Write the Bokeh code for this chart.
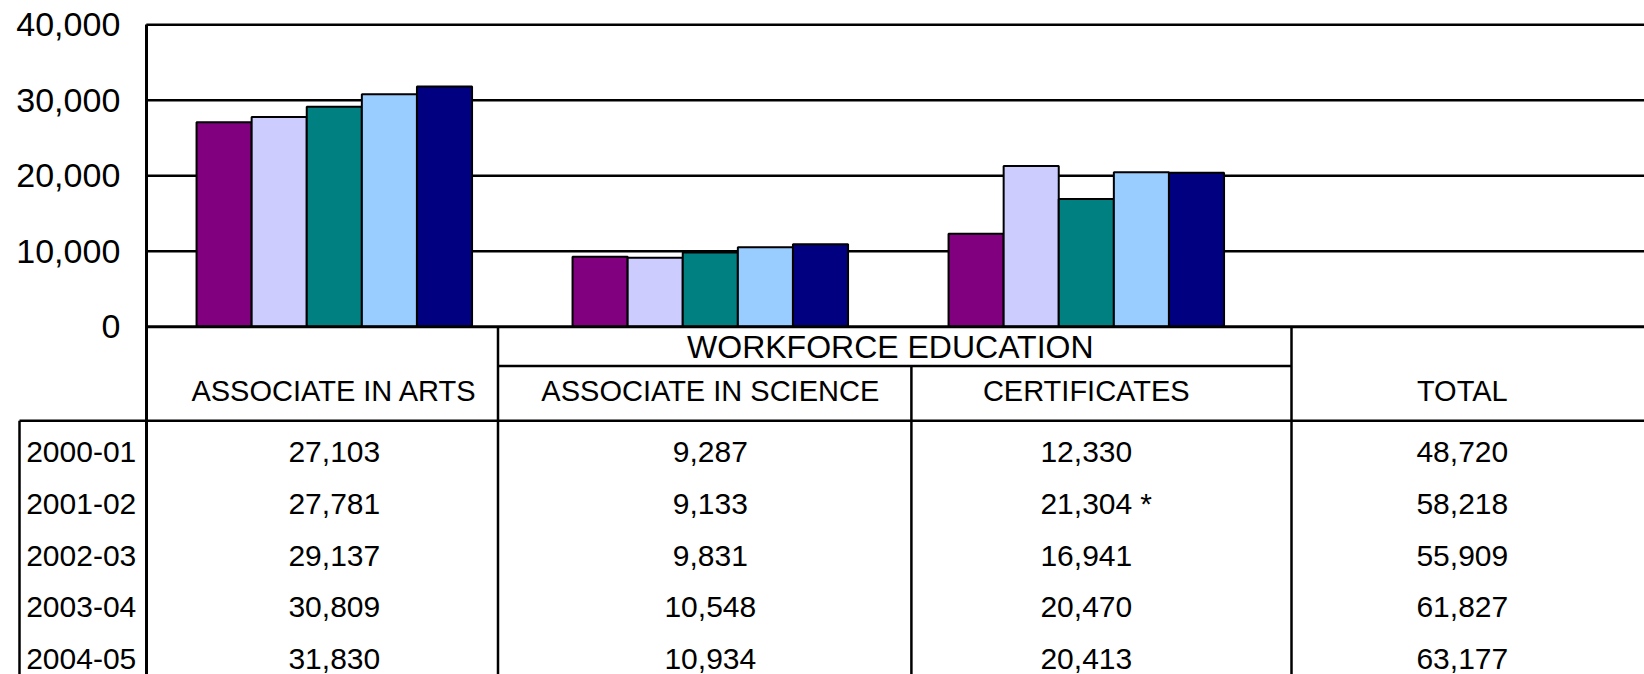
from bokeh.plotting import figure
from bokeh.models import Range1d, LinearAxis, FixedTicker, NumeralTickFormatter, ColumnDataSource
from bokeh.core.properties import value
from bokeh.embed import file_html
from bokeh.resources import INLINE

# ---------------- data ----------------
categories = ["ASSOCIATE IN ARTS", "ASSOCIATE IN SCIENCE", "CERTIFICATES", "TOTAL"]
years = ["2000-01", "2001-02", "2002-03", "2003-04", "2004-05"]
associate_arts = [27103, 27781, 29137, 30809, 31830]
associate_science = [9287, 9133, 9831, 10548, 10934]
certificates = [12330, 21304, 16941, 20470, 20413]
total = [48720, 58218, 55909, 61827, 63177]
certificate_notes = ["", "*", "", "", ""]
group_header = "WORKFORCE EDUCATION"
y_ticks = [0, 10000, 20000, 30000, 40000]
year_colors = ["#800080", "#CCCCFF", "#008080", "#99CCFF", "#000080"]

# ---------------- layout constants (page pixels) ----------------
FONT = "Liberation Sans"
FIG_W, FIG_H = 1644, 674
PLOT_LEFT = 145.8
CAT_W = 376.0
ZERO_Y = 326.3
PX_PER_UNIT = 302.0 / 40000
ROW0_Y = 451.7
ROW_H = 51.65
BAR_W = 55.1 / CAT_W
LINE_W = 2.5


def ux(ax):
    return (ax - PLOT_LEFT) / CAT_W


def vy(ay):
    return (ZERO_Y - ay) / PX_PER_UNIT


def ry(ay):
    return (ay - ROW0_Y) / ROW_H


X_END = ux(FIG_W)
ROW_BOTTOM = ry(FIG_H)
Y_MAX = max(y_ticks)

p = figure(width=FIG_W, height=FIG_H, output_backend="svg", toolbar_location=None,
           title=None,
           x_range=Range1d(ux(0), X_END),
           y_range=Range1d(vy(FIG_H), vy(0)),
           x_axis_location=None, y_axis_location=None,
           min_border_left=0, min_border_right=0, min_border_top=0,
           min_border_bottom=0, outline_line_color=None,
           background_fill_color="white", border_fill_color="white")
p.extra_y_ranges = {"table": Range1d(ROW_BOTTOM, ry(0))}
p.grid.visible = False

# gridlines
grid_vals = [t for t in y_ticks if t != 0]
p.segment(x0=[0] * len(grid_vals), x1=[X_END + 0.1] * len(grid_vals), y0=grid_vals, y1=grid_vals,
          line_color="black", line_width=LINE_W)

# bars
charted = [associate_arts, associate_science, certificates]
xs, tops, fills = [], [], []
for ci, vals in enumerate(charted):
    for yi, v in enumerate(vals):
        xs.append(ci + 0.5 + (yi - (len(years) - 1) / 2) * BAR_W)
        tops.append(v)
        fills.append(year_colors[yi])
bars = ColumnDataSource(dict(x=xs, top=tops, fill=fills))
p.vbar(x="x", top="top", bottom=0, width=BAR_W, fill_color="fill", line_color="black",
       line_width=2, source=bars)

# zero line
p.segment(x0=[0], x1=[X_END + 0.1], y0=[0], y1=[0], line_color="black", line_width=3)

# table lines
h_lines = dict(x0=[ux(19), ux(497.5)], x1=[X_END + 0.1, ux(1291)],
               y0=[ry(420.3), ry(365.5)], y1=[ry(420.3), ry(365.5)])
p.segment(source=ColumnDataSource(h_lines), x0="x0", x1="x1", y0="y0", y1="y1",
          y_range_name="table", line_color="black", line_width=LINE_W)
v_x = [ux(19), ux(497.5), ux(910.9), ux(1291)]
v_top = [ry(420.3), ry(ZERO_Y), ry(365.5), ry(ZERO_Y)]
p.segment(x0=v_x, x1=v_x, y0=v_top, y1=[ROW_BOTTOM + 1] * 4,
          y_range_name="table", line_color="black", line_width=LINE_W)

# header texts
cat_x = [i + 0.5 for i in range(len(categories))]
p.text(x=cat_x, y=[ry(390)] * len(categories), text=categories, y_range_name="table",
       text_font=value(FONT), text_font_size="29px", text_align="center",
       text_baseline="middle", text_color="black")
p.text(x=[2.0], y=[ry(346.2)], text=[group_header], y_range_name="table", x_offset=-8,
       text_font=value(FONT), text_font_size="32px", text_align="center",
       text_baseline="middle", text_color="black")

# table values
columns = [associate_arts, associate_science, certificates, total]
tx, ty, tt = [], [], []
for ci, vals in enumerate(columns):
    for yi, v in enumerate(vals):
        tx.append(ci + 0.5)
        ty.append(yi)
        tt.append(f"{v:,}")
p.text(x=tx, y=ty, text=tt, y_range_name="table", text_font=value(FONT),
       text_font_size="30px", text_align="center", text_baseline="middle", text_color="black")
nx = [2.5 for n in certificate_notes if n]
ny = [i for i, n in enumerate(certificate_notes) if n]
nt = [n for n in certificate_notes if n]
p.text(x=nx, y=ny, text=nt, y_range_name="table", x_offset=54, text_font=value(FONT),
       text_font_size="30px", text_align="left", text_baseline="middle", text_color="black")

# value axis (line runs from the bottom of the table up to the top gridline)
yaxis = LinearAxis(fixed_location=0, ticker=FixedTicker(ticks=y_ticks),
                   formatter=NumeralTickFormatter(format="0,0"),
                   bounds=(vy(FIG_H + 2), Y_MAX),
                   axis_line_color="black", axis_line_width=3,
                   major_tick_line_color=None, minor_tick_line_color=None,
                   major_tick_out=0, major_tick_in=0, major_label_standoff=26,
                   major_label_text_font=FONT, major_label_text_font_size="34px",
                   major_label_text_color="black")
p.add_layout(yaxis, "left")

# row-label axis for the data table
row_axis = LinearAxis(y_range_name="table", fixed_location=0,
                      ticker=FixedTicker(ticks=list(range(len(years)))),
                      major_label_overrides={i: y for i, y in enumerate(years)},
                      axis_line_color=None, major_tick_line_color=None, minor_tick_line_color=None,
                      major_tick_out=0, major_tick_in=0, major_label_standoff=10,
                      major_label_text_font=FONT, major_label_text_font_size="30px",
                      major_label_text_color="black")
p.add_layout(row_axis, "left")

open("out.html", "w").write(file_html(p, INLINE))
